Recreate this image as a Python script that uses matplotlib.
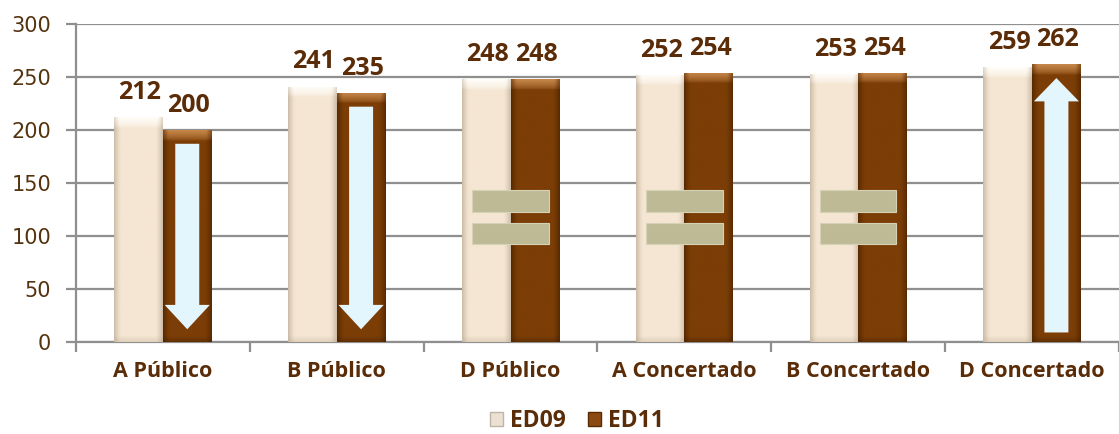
import numpy as np
import matplotlib
matplotlib.use("Agg")
import matplotlib.pyplot as plt
from matplotlib.patches import Rectangle, FancyArrow, Patch
from matplotlib.colors import to_rgb

# ---- data ----
categories = ["A Público", "B Público", "D Público", "A Concertado", "B Concertado", "D Concertado"]
ed09 = [212, 241, 248, 252, 253, 259]
ed11 = [200, 235, 248, 254, 254, 262]
series_names = ["ED09", "ED11"]
y_ticks = [0, 50, 100, 150, 200, 250, 300]

# change markers: category index -> kind
arrow_down = [0, 1]
arrow_up = [5]
equal_marks = [2, 3, 4]

TXT = "#5a2c08"
TICKTXT = "#55330f"
GRID = "#8f8f8f"
BOLDFONT = ["Open Sans", "DejaVu Sans"]

fig = plt.figure(figsize=(11.19, 4.34), dpi=100)
ax = fig.add_axes([76/1119, (434-342)/434, 1 - 76/1119, (342-24)/434])
ax.set_xlim(-0.5, len(categories) - 0.5)
ax.set_ylim(0, 300)

bw = 0.28


def bar_image(h, center, edge, top, bottom_dark):
    rows = max(int(h * 2), 2)
    cols = 60
    xs = (np.arange(cols) + 0.5) / cols
    dist = np.minimum(xs, 1 - xs)
    ed = np.clip(1 - dist / 0.15, 0, 1) ** 1.4
    c = np.array(to_rgb(center)); e = np.array(to_rgb(edge)); t = np.array(to_rgb(top))
    b = np.array(to_rgb(bottom_dark))
    row = c[None, :] * (1 - ed[:, None]) + e[None, :] * ed[:, None]
    img = np.repeat(row[None, :, :], rows, axis=0)
    ys = (np.arange(rows) + 0.5) / rows * h  # from top (row 0 = top)
    topz = 10.0
    for i, yv in enumerate(ys):
        if yv < topz:
            f = (1 - yv / topz) ** 0.6
            inner = np.clip((dist - 0.02) / 0.10, 0, 1)
            w = f * (0.45 + 0.55 * inner)
            img[i] = img[i] * (1 - w[:, None]) + t[None, :] * w[:, None]
        if h - yv < 6:
            f = (1 - (h - yv) / 6) * 0.4
            img[i] = img[i] * (1 - f) + b[None, :] * f
    return img


def draw_bar(x, h, colors):
    x0, x1 = x - bw / 2, x + bw / 2
    rect = Rectangle((x0, 0), bw, h, facecolor="none", edgecolor="none", zorder=3)
    ax.add_patch(rect)
    img = bar_image(h, *colors)
    im = ax.imshow(img, extent=[x0, x1, 0, h], aspect="auto", zorder=3, interpolation="bilinear")
    im.set_clip_path(rect)


c09 = ("#f5e6d3", "#c9b9a4", "#fffefa", "#bfae98")
c11 = ("#7c3e06", "#552801", "#c8884c", "#3f1d00")

x = np.arange(len(categories))
for i in range(len(categories)):
    draw_bar(x[i] - bw / 2, ed09[i], c09)
    draw_bar(x[i] + bw / 2, ed11[i], c11)
    ax.annotate(str(ed09[i]), (x[i] - bw / 2, ed09[i]), xytext=(1, 13), textcoords="offset points",
                ha="center", va="baseline", fontsize=18, fontweight="bold", color=TXT,
                family=BOLDFONT, zorder=5)
    ax.annotate(str(ed11[i]), (x[i] + bw / 2, ed11[i]), xytext=(1, 13), textcoords="offset points",
                ha="center", va="baseline", fontsize=18, fontweight="bold", color=TXT,
                family=BOLDFONT, zorder=5)

ARROW = "#e3f5fd"
for i in arrow_down:
    top = ed11[i] - 13
    ax.add_patch(FancyArrow(x[i] + bw / 2, top, 0, -(top - 12), width=0.138, head_width=0.26,
                            head_length=23, length_includes_head=True, facecolor=ARROW,
                            edgecolor="none", zorder=4))
for i in arrow_up:
    top = ed11[i] - 13
    ax.add_patch(FancyArrow(x[i] + bw / 2, 9, 0, top - 9, width=0.138, head_width=0.26,
                            head_length=22, length_includes_head=True, facecolor=ARROW,
                            edgecolor="none", zorder=4))

EQ = "#bfba96"
for i in equal_marks:
    for y0 in (123, 92):
        ax.add_patch(Rectangle((x[i] - 0.22, y0), 0.44, 20.5, facecolor=EQ,
                               edgecolor="#d6d2b6", linewidth=0.8, zorder=4))

# axes styling
ax.set_yticks(y_ticks)
ax.yaxis.grid(True, color=GRID, linewidth=1.6, zorder=0)
ax.set_axisbelow(True)
for s in ("top", "right"):
    ax.spines[s].set_visible(False)
for s in ("left", "bottom"):
    ax.spines[s].set_color(GRID)
    ax.spines[s].set_linewidth(1.6)
ax.tick_params(axis="y", length=7, width=1.6, color=GRID, labelsize=15, labelcolor=TICKTXT, pad=11)
ax.set_xticks(x)
ax.set_xticklabels(categories, fontsize=15.5, fontweight="bold", color=TXT, family=BOLDFONT)
ax.tick_params(axis="x", which="major", length=0, pad=14)
ax.set_xticks(np.arange(len(categories) + 1) - 0.5, minor=True)
ax.tick_params(axis="x", which="minor", length=7, width=1.6, color=GRID)

handles = [Patch(facecolor="#ece0d2", edgecolor="#bdb3a6"), Patch(facecolor="#8a4a12", edgecolor="#5a2a02")]
leg = fig.legend(handles, series_names, loc="center", bbox_to_anchor=(577/1119, 1 - 421/434), ncol=2,
                 frameon=False, handlelength=0.55, handleheight=0.55, handletextpad=0.3, columnspacing=1.0,
                 prop={"family": BOLDFONT, "weight": "bold", "size": 16.5})
for t in leg.get_texts():
    t.set_color(TXT)

fig.savefig("out.png", dpi=100)
